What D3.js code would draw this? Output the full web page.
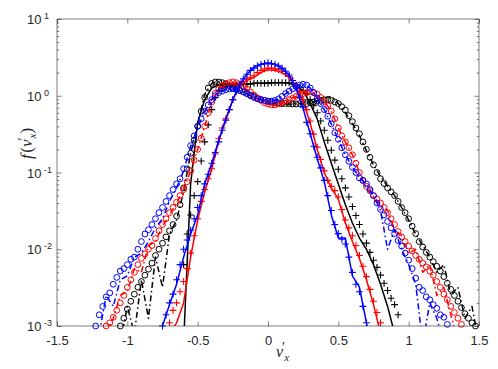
<!DOCTYPE html>
<html><head><meta charset="utf-8">
<script src="https://cdn.jsdelivr.net/npm/d3@7"></script>
<style>body{margin:0;background:#fff}svg{display:block}</style>
</head><body><svg id="c" width="498" height="369"></svg>
<script>
// ---------- axis ticks ----------
const xTickValues = [-1.5, -1, -0.5, 0, 0.5, 1, 1.5];
const xTickLabels = ["-1.5", "-1", "-0.5", "0", "0.5", "1", "1.5"];
const yDecadeValues = [1e-3, 1e-2, 1e-1, 1, 10];
const yDecadeExponents = ["-3", "-2", "-1", "0", "1"];

// ---------- data: marker series (x starts, step 0.025) ----------
const markerStep = 0.025;
const blueWideCircX0 = -1.225;
const blueWideCirc = [1.0e-3,1.4e-3,1.8e-3,2.4e-3,2.7e-3,3.5e-3,4.3e-3,5.2e-3,5.6e-3,6.3e-3,7.4e-3,7.9e-3,1.0e-2,1.26e-2,1.58e-2,1.8e-2,2.1e-2,2.5e-2,3.0e-2,3.5e-2,4.2e-2,5.0e-2,6.0e-2,7.1e-2,8.3e-2,0.112,0.158,0.224,0.30,0.40,0.50,0.63,0.76,0.89,1.0,1.1,1.15,1.2,1.23,1.23,1.2,1.17,1.12,1.07,1.0,0.95,0.91,0.89,0.87,0.85,0.85,0.87,0.91,0.98,1.07,1.15,1.23,1.32,1.38,1.41,1.38,1.26,1.1,0.93,0.79,0.66,0.54,0.43,0.33,0.27,0.21,0.17,0.14,0.117,0.10,0.085,0.079,0.071,0.060,0.050,0.040,0.033,0.028,0.023,0.019,0.016,0.013,0.011,8.9e-3,7.2e-3,5.6e-3,4.2e-3,3.2e-3,2.9e-3,2.4e-3,2.2e-3,1.9e-3,1.7e-3,1.4e-3,1.3e-3,1.05e-3];
const redWideCircX0 = -1.15;
const redWideCirc = [1.0e-3,1.1e-3,1.3e-3,1.6e-3,2.0e-3,2.5e-3,3.2e-3,4.0e-3,5.0e-3,6.3e-3,7.6e-3,8.7e-3,1.0e-2,1.12e-2,1.38e-2,1.74e-2,2.1e-2,2.5e-2,3.0e-2,3.5e-2,4.1e-2,5.0e-2,6.0e-2,7.6e-2,0.105,0.145,0.20,0.28,0.40,0.60,0.83,1.07,1.23,1.35,1.45,1.48,1.51,1.48,1.41,1.32,1.23,1.12,1.02,0.93,0.87,0.81,0.78,0.76,0.76,0.78,0.81,0.85,0.89,0.93,0.98,1.02,1.07,1.1,1.12,1.1,1.05,0.95,0.85,0.74,0.63,0.50,0.38,0.30,0.25,0.21,0.17,0.132,0.10,0.079,0.066,0.058,0.050,0.045,0.040,0.035,0.030,0.025,0.021,0.017,0.0145,0.0126,0.011,9.5e-3,8.3e-3,7.4e-3,6.6e-3,5.9e-3,5.2e-3,4.6e-3,3.8e-3,3.2e-3,2.6e-3,2.2e-3,1.8e-3,1.5e-3,1.26e-3,1.05e-3];
const blackWideCircX0 = -1.05;
const blackWideCirc = [1.0e-3,1.26e-3,1.66e-3,2.1e-3,2.6e-3,3.2e-3,3.8e-3,4.6e-3,5.5e-3,6.6e-3,8.3e-3,1.0e-2,1.2e-2,1.45e-2,1.74e-2,2.1e-2,2.7e-2,3.8e-2,6.3e-2,0.112,0.178,0.263,0.40,0.63,0.95,1.26,1.45,1.51,1.51,1.48,1.41,1.35,1.29,1.23,1.17,1.12,1.07,1.02,0.98,0.93,0.89,0.87,0.85,0.83,0.81,0.81,0.79,0.79,0.79,0.78,0.78,0.79,0.79,0.79,0.81,0.83,0.85,0.87,0.89,0.89,0.87,0.83,0.79,0.72,0.65,0.55,0.46,0.38,0.32,0.25,0.20,0.158,0.126,0.10,0.083,0.072,0.063,0.056,0.050,0.042,0.035,0.030,0.025,0.020,0.016,0.0126,0.0107,9.1e-3,7.9e-3,6.9e-3,6.0e-3,5.2e-3,4.4e-3,3.6e-3,3.0e-3,2.5e-3,2.1e-3,1.74e-3,1.45e-3,1.26e-3,1.1e-3,1.0e-3];
const blueNarrowPlusX0 = -0.75;
const blueNarrowPlus = [1.0e-3,1.4e-3,2.0e-3,2.6e-3,4.0e-3,6.3e-3,1.0e-2,1.32e-2,1.78e-2,2.5e-2,3.5e-2,5.0e-2,7.1e-2,9.5e-2,0.132,0.182,0.251,0.355,0.479,0.66,0.89,1.15,1.41,1.66,1.91,2.14,2.29,2.45,2.57,2.63,2.69,2.63,2.57,2.45,2.29,2.09,1.86,1.58,1.26,0.95,0.71,0.45,0.32,0.22,0.158,0.115,0.079,0.050,0.032,0.021,0.016,0.0135,0.0117,7.9e-3,5.0e-3,3.5e-3,2.8e-3,1.8e-3,1.1e-3];
const redNarrowPlusX0 = -0.7;
const redNarrowPlus = [1.1e-3,1.6e-3,2.0e-3,2.8e-3,3.8e-3,5.6e-3,8.9e-3,1.5e-2,2.5e-2,4.2e-2,6.0e-2,8.3e-2,0.112,0.174,0.275,0.38,0.50,0.66,0.89,1.15,1.38,1.55,1.66,1.74,1.82,2.0,2.14,2.24,2.29,2.29,2.24,2.19,2.09,1.95,1.78,1.58,1.35,1.12,0.89,0.66,0.468,0.316,0.214,0.148,0.105,0.079,0.066,0.058,0.048,0.033,0.024,0.019,0.015,0.0112,8.3e-3,6.0e-3,4.4e-3,3.0e-3,2.1e-3,1.5e-3,1.1e-3];
const blackNarrowPlusX0 = -0.6;
const blackNarrowPlus = [6.3e-3,1.58e-2,2.8e-2,5.0e-2,7.6e-2,0.141,0.251,0.417,0.66,0.95,1.17,1.26,1.32,1.35,1.38,1.38,1.41,1.41,1.41,1.41,1.45,1.45,1.45,1.45,1.45,1.48,1.48,1.48,1.48,1.48,1.48,1.45,1.38,1.29,1.17,1.05,0.89,0.74,0.60,0.468,0.355,0.263,0.195,0.145,0.11,0.083,0.063,0.048,0.036,0.0275,0.021,0.0158,0.012,9.1e-3,7.2e-3,5.8e-3,4.6e-3,3.6e-3,2.9e-3,2.3e-3,1.9e-3,1.4e-3];

// ---------- data: line series (x starts, step 0.05) ----------
const lineStep = 0.05;
const blueNarrowLineX0 = -0.75;
const blueNarrowLine = [1.0e-3,1.9e-3,3.5e-3,7.9e-3,1.58e-2,2.8e-2,7.1e-2,0.132,0.263,0.5,0.89,1.41,1.91,2.34,2.57,2.63,2.57,2.29,1.86,1.26,0.68,0.32,0.151,0.076,0.028,0.014,0.014,4.5e-3,3.2e-3,1.1e-3,4e-4];
const redNarrowLineX0 = -0.7;
const redNarrowLine = [8e-4,1.1e-3,2.0e-3,7.9e-3,2.4e-2,5.6e-2,0.112,0.263,0.479,0.89,1.38,1.58,1.74,2.0,2.19,2.14,2.0,1.74,1.32,0.85,0.437,0.2,0.1,0.063,0.045,0.022,0.0126,7.6e-3,4.0e-3,1.9e-3,8e-4];
const blackNarrowLineX0 = -0.6;
const blackNarrowLine = [6e-4,0.071,0.45,0.89,1.26,1.38,1.38,1.38,1.41,1.41,1.45,1.45,1.48,1.48,1.48,1.45,1.35,1.17,0.79,0.5,0.25,0.132,0.071,0.038,0.022,0.014,0.01,6.3e-3,3.5e-3,1.8e-3,8e-4];
const blueWideLineX0 = -1.2;
const blueWideLine = [8e-4,2.5e-3,1.8e-3,4.0e-3,4.5e-3,7.9e-3,8.9e-3,1.26e-2,1.9e-2,2.5e-2,4.2e-2,6.3e-2,0.105,0.219,0.38,0.63,0.89,1.1,1.2,1.23,1.17,1.07,0.95,0.89,0.85,0.87,0.98,1.15,1.32,1.41,1.26,0.93,0.66,0.427,0.269,0.17,0.117,0.085,0.071,0.05,0.032,0.01,0.018,0.01,6.3e-3,3.5e-3,6e-4,2.0e-3,1.26e-3,6e-4];
const redWideLineX0 = -1.15;
const redWideLine = [8e-4,1.26e-3,2.5e-3,2.8e-3,5.6e-3,5.0e-3,1.12e-2,1.26e-2,2.0e-2,2.8e-2,4.0e-2,6.0e-2,0.105,0.2,0.4,0.83,1.23,1.41,1.48,1.38,1.2,1.0,0.85,0.78,0.76,0.81,0.91,0.98,1.12,1.07,1.0,0.85,0.63,0.38,0.25,0.17,0.1,0.063,0.048,0.038,0.032,0.018,0.015,8.9e-3,0.01,5.0e-3,6.3e-3,2.5e-3,3.2e-3,1.4e-3,6e-4];
const blackWideLineX0 = -1.05;
const blackWideLine = [6e-4,1.8e-3,8e-4,4.0e-3,1.26e-3,7.9e-3,3.2e-3,1.58e-2,2.4e-2,5.6e-2,0.178,0.417,1.05,1.45,1.51,1.41,1.29,1.15,1.05,0.95,0.89,0.83,0.79,0.78,0.78,0.79,0.79,0.81,0.85,0.93,0.98,0.79,0.6,0.437,0.302,0.191,0.126,0.089,0.066,0.05,0.035,0.024,0.0158,0.0112,7.9e-3,5.0e-3,6.3e-3,2.5e-3,3.2e-3,1.26e-3,1.8e-3,6e-4];

// ---------- layout ----------
const L = 57, R = 479, T = 19, B = 326;
const axisColor = "#262626";
const svg = d3.select("#c");

const x = d3.scaleLinear().domain([-1.5, 1.5]).range([L, R]);
const y = d3.scaleLog().domain([1e-3, 10]).range([B, T]);

const toPts = (x0, step, arr) => arr.map((v, i) => [x0 + i * step, v]);

svg.append("defs").append("clipPath").attr("id", "plotclip")
  .append("rect").attr("x", L).attr("y", T).attr("width", R - L).attr("height", B - T);

const COL = {black: "#000000", red: "#ff0000", blue: "#0000ff"};
const DD = "6,3,1.5,3";
const lineSeries = [
  {pts: toPts(blackWideLineX0, lineStep, blackWideLine), color: COL.black, dash: DD},
  {pts: toPts(blackNarrowLineX0, lineStep, blackNarrowLine), color: COL.black, dash: null},
  {pts: toPts(redWideLineX0, lineStep, redWideLine), color: COL.red, dash: DD},
  {pts: toPts(redNarrowLineX0, lineStep, redNarrowLine), color: COL.red, dash: null},
  {pts: toPts(blueWideLineX0, lineStep, blueWideLine), color: COL.blue, dash: DD},
  {pts: toPts(blueNarrowLineX0, lineStep, blueNarrowLine), color: COL.blue, dash: null}
];
const markerSeries = [
  {pts: toPts(blackWideCircX0, markerStep, blackWideCirc), color: COL.black, shape: "circle"},
  {pts: toPts(blackNarrowPlusX0, markerStep, blackNarrowPlus), color: COL.black, shape: "plus"},
  {pts: toPts(redWideCircX0, markerStep, redWideCirc), color: COL.red, shape: "circle"},
  {pts: toPts(redNarrowPlusX0, markerStep, redNarrowPlus), color: COL.red, shape: "plus"},
  {pts: toPts(blueWideCircX0, markerStep, blueWideCirc), color: COL.blue, shape: "circle"},
  {pts: toPts(blueNarrowPlusX0, markerStep, blueNarrowPlus), color: COL.blue, shape: "plus"}
];

const lineGen = d3.line().x(d => x(d[0])).y(d => y(d[1]));
const plotG = svg.append("g");
[0, 1, 2, 3, 4, 5].forEach(k => {
  const ls = lineSeries[k], ms = markerSeries[k];
  plotG.append("path").attr("clip-path", "url(#plotclip)")
    .attr("d", lineGen(ls.pts)).attr("fill", "none")
    .attr("stroke", ls.color).attr("stroke-width", 1.5)
    .attr("stroke-linejoin", "round")
    .attr("stroke-dasharray", ls.dash);
  const pts = ms.pts.filter(d => d[1] >= 1e-3 && d[0] >= -1.5 && d[0] <= 1.5);
  if (ms.shape === "circle") {
    plotG.append("g").selectAll("circle").data(pts).join("circle")
      .attr("cx", d => x(d[0])).attr("cy", d => y(d[1])).attr("r", 2.9)
      .attr("fill", "none").attr("stroke", ms.color).attr("stroke-width", 1);
  } else {
    plotG.append("g").selectAll("path").data(pts).join("path")
      .attr("transform", d => `translate(${x(d[0])},${y(d[1])})`)
      .attr("d", "M-3.4,0H3.4M0,-3.4V3.4")
      .attr("fill", "none").attr("stroke", ms.color).attr("stroke-width", 1.1);
  }
});

// ---------- axes ----------
const tickLen = 4.5;
const minorVals = [];
for (let e = -3; e < 1; e++) for (let m = 2; m <= 9; m++) minorVals.push(m * Math.pow(10, e));

function styleAxis(g) {
  g.select(".domain").remove();
  g.selectAll(".tick line").attr("stroke", axisColor).attr("stroke-width", 0.6);
}
const sans = "'Liberation Sans', Arial, Helvetica, sans-serif";
const gB = svg.append("g").attr("transform", `translate(0,${B})`)
  .call(d3.axisBottom(x).tickValues(xTickValues).tickSizeInner(-tickLen).tickSizeOuter(0)
    .tickPadding(10).tickFormat((d, i) => xTickLabels[i]));
styleAxis(gB);
gB.selectAll(".tick text").attr("font-family", sans).attr("font-size", 13).attr("fill", axisColor);
const gT = svg.append("g").attr("transform", `translate(0,${T})`)
  .call(d3.axisTop(x).tickValues(xTickValues).tickSizeInner(-tickLen).tickSizeOuter(0).tickFormat(""));
styleAxis(gT);
const gL = svg.append("g").attr("transform", `translate(${L},0)`)
  .call(d3.axisLeft(y).tickValues(yDecadeValues).tickSizeInner(-tickLen).tickSizeOuter(0).tickFormat(""));
styleAxis(gL);
const gLm = svg.append("g").attr("transform", `translate(${L},0)`)
  .call(d3.axisLeft(y).tickValues(minorVals).tickSizeInner(-2.3).tickSizeOuter(0).tickFormat(""));
styleAxis(gLm);
const gR = svg.append("g").attr("transform", `translate(${R},0)`)
  .call(d3.axisRight(y).tickValues(yDecadeValues).tickSizeInner(-tickLen).tickSizeOuter(0).tickFormat(""));
styleAxis(gR);
const gRm = svg.append("g").attr("transform", `translate(${R},0)`)
  .call(d3.axisRight(y).tickValues(minorVals).tickSizeInner(-2.3).tickSizeOuter(0).tickFormat(""));
styleAxis(gRm);

gL.selectAll(".tick").each(function(d, i) {
  const t = d3.select(this).append("text")
    .attr("x", -30).attr("y", 4.5)
    .attr("text-anchor", "start")
    .attr("font-family", sans).attr("font-size", 13).attr("fill", axisColor);
  t.append("tspan").text("10");
  t.append("tspan").attr("dx", 2.5).attr("dy", -5).attr("font-size", 9).text(yDecadeExponents[i]);
});

svg.append("rect").attr("x", L).attr("y", T).attr("width", R - L).attr("height", B - T)
  .attr("fill", "none").attr("stroke", axisColor).attr("stroke-width", 0.6);

// axis labels
const serif = "'Liberation Serif', 'Times New Roman', serif";
const xl = svg.append("text").attr("x", 276).attr("y", 357)
  .attr("font-family", serif).attr("font-size", 16).attr("fill", axisColor);
xl.append("tspan").attr("font-style", "italic").text("v");
xl.append("tspan").attr("dx", -1).attr("dy", -5).attr("font-size", 14).text("′");
xl.append("tspan").attr("dx", -1).attr("dy", 9).attr("font-size", 11).attr("font-style", "italic").text("x");

const yl = svg.append("text").attr("transform", "translate(32,159) rotate(-90)")
  .attr("font-family", serif).attr("font-size", 17).attr("fill", axisColor);
yl.append("tspan").attr("font-style", "italic").text("f");
yl.append("tspan").attr("dx", 1.5).text("(");
yl.append("tspan").attr("font-style", "italic").text("v");
yl.append("tspan").attr("dx", -1).attr("dy", -4).attr("font-size", 14).text("′");
yl.append("tspan").attr("dx", -1).attr("dy", 8).attr("font-size", 11).attr("font-style", "italic").text("x");
yl.append("tspan").attr("dy", -4).text(")");
</script>
</body></html>
